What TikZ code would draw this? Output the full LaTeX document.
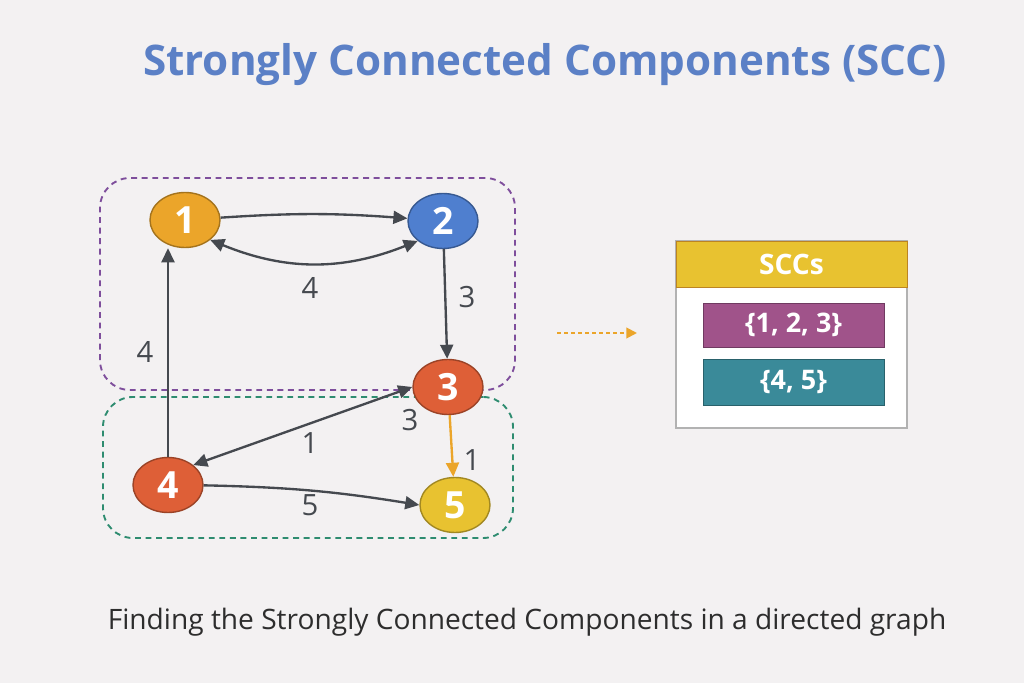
\documentclass[tikz,border=0pt]{standalone}
\usepackage{fontspec}
\setmainfont{Open Sans}
\usetikzlibrary{arrows.meta,shapes.geometric}
\definecolor{bg}{HTML}{F3F1F2}
\definecolor{ttl}{HTML}{5B80C6}
\definecolor{orng}{HTML}{EBA52A}
\definecolor{blu}{HTML}{4F7FCF}
\definecolor{red}{HTML}{DE5F37}
\definecolor{yel}{HTML}{E8C230}
\definecolor{edg}{HTML}{45494F}
\definecolor{pur}{HTML}{7E4E9C}
\definecolor{grn}{HTML}{2E8C70}
\definecolor{mag}{HTML}{A0538A}
\definecolor{teal}{HTML}{3A8A99}
\begin{document}
\begin{tikzpicture}[x=0.03cm,y=-0.03cm,
 v/.style={ellipse,draw=#1!70!black,line width=1.2pt,fill=#1,text=white,font=\fontsize{32}{32}\selectfont\bfseries,minimum width=2.1cm,minimum height=1.65cm,inner sep=0pt},
 e/.style={draw=edg,line width=2pt,-{Triangle[length=12pt,width=11pt]}},
 lab/.style={text=edg,font=\fontsize{25}{25}\selectfont},
 grp/.style={draw=#1,dashed,line width=1.6pt,dash pattern=on 5pt off 4pt,rounded corners=0.9cm}]
\fill[bg] (0,0) rectangle (1024,683);
\useasboundingbox (0,0) rectangle (1024,683);
\node[text=ttl,font=\fontsize{36}{36}\selectfont\bfseries] (title) at (545,65) {Strongly Connected Components (SCC)};
\node[grp=pur,minimum width=12.45cm,minimum height=6.36cm] (g1) at (307.5,284) {};
\node[grp=grn,minimum width=12.3cm,minimum height=4.23cm] (g2) at (308,467.5) {};
\node[v=orng] (n1) at (185,220) {1};
\node[v=blu] (n2) at (443,221) {2};
\node[v=red] (n3) at (448,387) {3};
\node[v=red] (n4) at (168,485) {4};
\node[v=yel] (n5) at (455,505) {5};
\draw[e] (n1) to[bend left=4] (n2);
\draw[e,{Triangle[length=12pt,width=11pt]}-{Triangle[length=12pt,width=11pt]}] (n1.south east) to[bend right=22] (n2.south west);
\draw[e] (n2) -- (n3);
\draw[e] (n4.north) -- (n1.south -| n4.north);
\draw[e,{Triangle[length=12pt,width=11pt]}-{Triangle[length=12pt,width=11pt]}] (n4.north east) -- (n3.west);
\draw[e,draw=orng] (n3) -- (n5);
\draw[e] (n4) to[bend left=4] (n5.west);
\node[lab] (l1) at (310,288) {4};
\node[lab] (l2) at (467,297) {3};
\node[lab] (l3) at (145,352) {4};
\node[lab] (l4) at (410,420) {3};
\node[lab] (l5) at (310,443) {1};
\node[lab] (l6) at (472,460) {1};
\node[lab] (l7) at (310,505) {5};
\coordinate (a0) at (557,333);
\coordinate (a1) at (637,333);
\draw[orng,line width=1.6pt,dash pattern=on 3pt off 3pt,-{Triangle[length=9pt,width=9pt]}] (a0) -- (a1);
\node[draw=gray!60,fill=white,line width=1pt,minimum width=6.93cm,minimum height=5.61cm,inner sep=0pt] (panel) at (791.5,334.5) {};
\node[fill=yel,draw=orng!80!black,minimum width=6.93cm,minimum height=1.38cm,inner sep=0pt,text=white,font=\fontsize{24}{24}\selectfont\bfseries] (hdr) at (791.5,264) {SCCs};
\node[fill=mag,draw=mag!70!black,minimum width=5.43cm,minimum height=1.32cm,inner sep=0pt,text=white,font=\fontsize{23}{23}\selectfont\bfseries] (s1) at (793.5,325) {\{1, 2, 3\}};
\node[fill=teal,draw=teal!70!black,minimum width=5.43cm,minimum height=1.38cm,inner sep=0pt,text=white,font=\fontsize{23}{23}\selectfont\bfseries] (s2) at (793.5,382) {\{4, 5\}};
\node[text=gray!35!black,font=\fontsize{24}{24}\selectfont] (cap) at (527,622) {Finding the Strongly Connected Components in a directed graph};
\end{tikzpicture}
\end{document}
